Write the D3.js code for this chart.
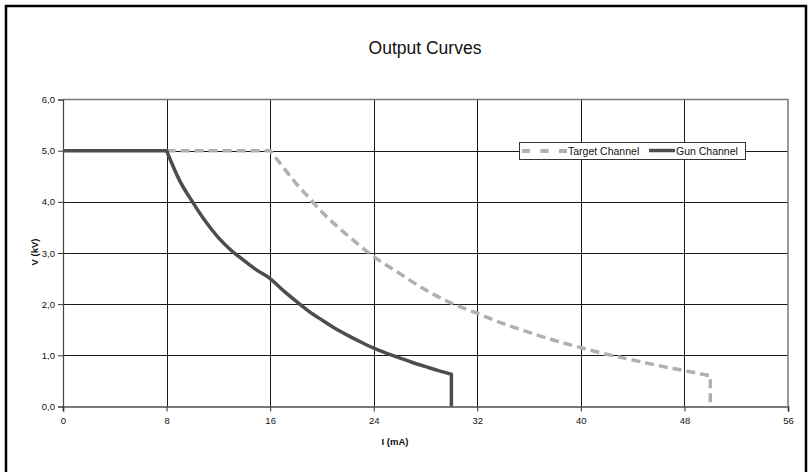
<!DOCTYPE html>
<html>
<head>
<meta charset="utf-8">
<script src="https://cdn.jsdelivr.net/npm/d3@7/dist/d3.min.js"></script>
<style>
  html, body { margin: 0; padding: 0; background: #fff; }
  svg { display: block; }
  text { font-family: "Liberation Sans", Arial, Helvetica, sans-serif; fill: #111; }
</style>
</head>
<body>
<svg id="chart" width="812" height="472"></svg>
<script>
// ---- data ----
const title = "Output Curves";
const xLabel = "I (mA)";
const yLabel = "V (kV)";
const xTicks = [0, 8, 16, 24, 32, 40, 48, 56];
const yTicks = [0, 1, 2, 3, 4, 5, 6];

const gunI = [0, 8, 9, 10, 11, 12, 13, 14, 15, 16, 17, 18, 19, 20, 21, 22, 23, 24, 25, 26, 27, 28, 29, 30, 30];
const gunV = [5, 5, 4.42, 4.0, 3.62, 3.3, 3.05, 2.85, 2.66, 2.5, 2.27, 2.06, 1.86, 1.69, 1.53, 1.39, 1.26, 1.14, 1.04, 0.95, 0.86, 0.78, 0.7, 0.63, 0];

const targetI = [8, 16, 17, 18, 19, 20, 21, 22, 24, 26, 28, 30, 32, 34, 36, 38, 40, 42, 44, 46, 48, 50, 50];
const targetV = [5, 5, 4.68, 4.36, 4.08, 3.8, 3.56, 3.34, 2.93, 2.6, 2.28, 2.02, 1.82, 1.62, 1.45, 1.29, 1.15, 1.02, 0.91, 0.8, 0.7, 0.6, 0];

const seriesNames = ["Target Channel", "Gun Channel"];

// ---- layout ----
const svg = d3.select("#chart");
const m = { left: 63, right: 788, top: 99.5, bottom: 406.5 };

const x = d3.scaleLinear().domain([0, 56]).range([m.left, m.right]);
const y = d3.scaleLinear().domain([0, 6]).range([m.bottom, m.top]);

// outer frame
svg.append("rect")
  .attr("x", 6).attr("y", 6).attr("width", 800).attr("height", 480)
  .attr("fill", "none").attr("stroke", "#000").attr("stroke-width", 2.5);

// title
svg.append("text")
  .attr("x", 425).attr("y", 54)
  .attr("text-anchor", "middle")
  .attr("font-size", 17.5)
  .text(title);

// gridlines
const grid = svg.append("g");
grid.selectAll("line.v")
  .data(xTicks.filter(d => d > 0 && d < 56))
  .join("line")
  .attr("x1", d => Math.round(x(d)) + 0.5).attr("x2", d => Math.round(x(d)) + 0.5)
  .attr("y1", m.top).attr("y2", m.bottom)
  .attr("stroke", "#1a1a1a").attr("stroke-width", 1);
grid.selectAll("line.h")
  .data(yTicks.filter(d => d > 0 && d < 6))
  .join("line")
  .attr("y1", d => Math.round(y(d)) + 0.5).attr("y2", d => Math.round(y(d)) + 0.5)
  .attr("x1", m.left).attr("x2", m.right)
  .attr("stroke", "#1a1a1a").attr("stroke-width", 1);

// plot border top & right (gray)
svg.append("path")
  .attr("d", `M${m.left},${m.top}H${m.right}V${m.bottom}`)
  .attr("fill", "none").attr("stroke", "#7a7a7a").attr("stroke-width", 1.5);

// axes
const fmt = d3.format(".1f");
const xAxis = svg.append("g")
  .attr("transform", `translate(0,${m.bottom})`)
  .call(d3.axisBottom(x).tickValues(xTicks).tickSize(5).tickPadding(6).tickFormat(d3.format("d")));
const yAxis = svg.append("g")
  .attr("transform", `translate(${m.left},0)`)
  .call(d3.axisLeft(y).tickValues(yTicks).tickSize(5).tickPadding(3).tickFormat(d => fmt(d).replace(".", ",")));

[xAxis, yAxis].forEach(g => {
  g.selectAll("text").attr("font-size", 9.5).attr("fill", "#111")
    .attr("font-family", "'Liberation Sans', Arial, sans-serif");
  g.selectAll(".tick line").attr("stroke", "#333");
});
xAxis.select(".domain").attr("stroke", "#7a7a7a").attr("stroke-width", 2);
yAxis.select(".domain").attr("stroke", "#444").attr("stroke-width", 1.2);

// axis labels
svg.append("text")
  .attr("x", 395).attr("y", 445)
  .attr("text-anchor", "middle").attr("font-size", 9.5).attr("font-weight", "bold")
  .text(xLabel);
svg.append("text")
  .attr("transform", `translate(38,252) rotate(-90)`)
  .attr("text-anchor", "middle").attr("font-size", 9.5).attr("font-weight", "bold")
  .text(yLabel);

// lines: flat start (linear), smooth middle (monotone), vertical drop (linear)
const lin = d3.line().x(d => x(d[0])).y(d => y(d[1]));
const smooth = d3.line().x(d => x(d[0])).y(d => y(d[1])).curve(d3.curveMonotoneX);
function seriesPath(pts) {
  const n = pts.length;
  const a = lin(pts.slice(0, 2));
  const b = smooth(pts.slice(1, n - 1)).replace(/^M[^A-Za-z]*/, "");
  const c = "L" + x(pts[n - 1][0]) + "," + y(pts[n - 1][1]);
  return a + b + c;
}
const targetData = targetI.map((d, i) => [d, targetV[i]]);
const gunData = gunI.map((d, i) => [d, gunV[i]]);

svg.append("path")
  .attr("d", seriesPath(targetData))
  .attr("fill", "none").attr("stroke", "#b0b0b0").attr("stroke-width", 3.5)
  .attr("stroke-dasharray", "9,5").attr("stroke-linejoin", "round");

svg.append("path")
  .attr("d", seriesPath(gunData))
  .attr("fill", "none").attr("stroke", "#4d4d4d").attr("stroke-width", 3.5)
  .attr("stroke-linejoin", "round");

// legend
const lg = svg.append("g");
lg.append("rect")
  .attr("x", 519.5).attr("y", 142.5).attr("width", 226).attr("height", 17)
  .attr("fill", "#fff").attr("stroke", "#333").attr("stroke-width", 1);
lg.append("line")
  .attr("x1", 522).attr("x2", 567).attr("y1", 151).attr("y2", 151)
  .attr("stroke", "#b0b0b0").attr("stroke-width", 4).attr("stroke-dasharray", "8,10.5");
lg.append("text")
  .attr("x", 568).attr("y", 155).attr("font-size", 10.5).text(seriesNames[0]);
lg.append("line")
  .attr("x1", 649).attr("x2", 675).attr("y1", 150.5).attr("y2", 150.5)
  .attr("stroke", "#4d4d4d").attr("stroke-width", 3.5);
lg.append("text")
  .attr("x", 676).attr("y", 155).attr("font-size", 10.5).text(seriesNames[1]);
</script>
</body>
</html>
